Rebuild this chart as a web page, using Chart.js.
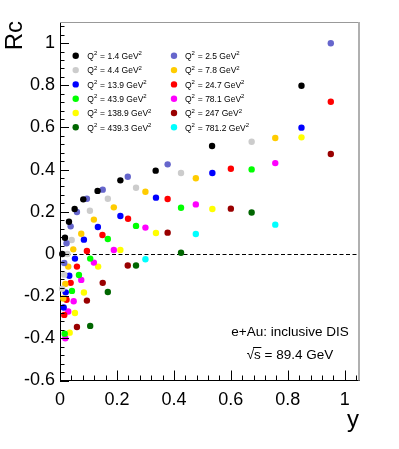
<!DOCTYPE html>
<html>
<head>
<meta charset="utf-8">
<script src="https://cdn.jsdelivr.net/npm/chart.js@4.4.1/dist/chart.umd.min.js"></script>
<style>
  html, body { margin: 0; padding: 0; background: #fff; }
  canvas { display: block; }
</style>
</head>
<body>
<canvas id="rcChart" width="399" height="449"></canvas>
<script>
// Q^2 bins (GeV^2) and marker colours
const q2Values = ['1.4', '2.5', '4.4', '7.8', '13.9', '24.7', '43.9', '78.1', '138.9', '247', '439.3', '781.2'];
const q2Colors = ['#000000', '#6666cc', '#cccccc', '#ffcc00', '#0000ff', '#ff0000',
                  '#00ff00', '#ff00ff', '#ffff00', '#990000', '#006600', '#00ffff'];

// inelasticity y and Rc for each Q^2 bin
const y_1p4 = [0.008, 0.0175, 0.0315, 0.0514, 0.0817, 0.132, 0.212, 0.336, 0.534, 0.848];
const rc_1p4 = [0.0, 0.077, 0.153, 0.213, 0.259, 0.299, 0.349, 0.395, 0.512, 0.798];
const y_2p5 = [0.015, 0.023, 0.0374, 0.0595, 0.0945, 0.150, 0.238, 0.378, 0.951];
const rc_2p5 = [-0.043, 0.051, 0.131, 0.199, 0.262, 0.305, 0.366, 0.425, 0.999];
const y_4p4 = [0.008, 0.015, 0.026, 0.041, 0.105, 0.168, 0.267, 0.425, 0.673];
const rc_4p4 = [-0.165, -0.098, 0.0, 0.066, 0.205, 0.262, 0.314, 0.384, 0.532];
const y_7p8 = [0.0116, 0.0186, 0.029, 0.0466, 0.0746, 0.119, 0.189, 0.300, 0.477, 0.756];
const rc_7p8 = [-0.211, -0.142, -0.060, 0.022, 0.096, 0.163, 0.221, 0.295, 0.359, 0.550];
const y_13p9 = [0.013, 0.020, 0.0326, 0.0525, 0.084, 0.133, 0.212, 0.337, 0.535, 0.848];
const rc_13p9 = [-0.254, -0.182, -0.103, -0.022, 0.068, 0.128, 0.180, 0.267, 0.384, 0.599];
const y_24p7 = [0.015, 0.023, 0.0374, 0.0595, 0.0945, 0.149, 0.239, 0.378, 0.600, 0.951];
const rc_24p7 = [-0.289, -0.217, -0.137, -0.060, 0.014, 0.090, 0.167, 0.261, 0.404, 0.722];
const y_43p9 = [0.0165, 0.042, 0.0665, 0.106, 0.168, 0.267, 0.425, 0.673];
const rc_43p9 = [-0.378, -0.175, -0.100, -0.022, 0.071, 0.133, 0.219, 0.401];
const y_78p1 = [0.0186, 0.029, 0.048, 0.0746, 0.119, 0.189, 0.300, 0.477, 0.756];
const rc_78p1 = [-0.400, -0.273, -0.224, -0.123, -0.041, 0.019, 0.125, 0.235, 0.431];
const y_138p9 = [0.034, 0.0525, 0.084, 0.134, 0.212, 0.337, 0.535, 0.848];
const rc_138p9 = [-0.373, -0.280, -0.183, -0.060, 0.019, 0.0995, 0.213, 0.553];
const y_247 = [0.0595, 0.0945, 0.150, 0.238, 0.378, 0.600, 0.951];
const rc_247 = [-0.346, -0.221, -0.137, -0.055, 0.101, 0.215, 0.474];
const y_439p3 = [0.106, 0.168, 0.267, 0.425, 0.673];
const rc_439p3 = [-0.341, -0.180, -0.055, 0.006, 0.197];
const y_781p2 = [0.300, 0.477, 0.756];
const rc_781p2 = [-0.025, 0.095, 0.139];

// axis tick labels
const xTicks = [0, 0.2, 0.4, 0.6, 0.8, 1];
const yTicks = [-0.6, -0.4, -0.2, 0, 0.2, 0.4, 0.6, 0.8, 1];

const yBins = [y_1p4, y_2p5, y_4p4, y_7p8, y_13p9, y_24p7, y_43p9, y_78p1, y_138p9, y_247, y_439p3, y_781p2];
const rcBins = [rc_1p4, rc_2p5, rc_4p4, rc_7p8, rc_13p9, rc_24p7, rc_43p9, rc_78p1, rc_138p9, rc_247, rc_439p3, rc_781p2];

const FONT = '"Liberation Sans", Arial, Helvetica, sans-serif';
const fmt = v => String(Math.round(v * 10) / 10);

const datasets = q2Values.map((q, i) => ({
    label: q,
    data: yBins[i].map((yv, j) => ({ x: yv, y: rcBins[i][j] })),
    backgroundColor: q2Colors[i],
    pointRadius: 3.2,
    pointBorderWidth: 0,
    clip: false
}));

// ROOT-like frame, inside ticks, titles, legend and labels
const rootStyle = {
    id: 'rootStyle',
    beforeDatasetsDraw(chart) {
        const { ctx, chartArea: a, scales: { y } } = chart;
        const y0 = Math.round(y.getPixelForValue(0)) + 0.5;
        ctx.save();
        ctx.strokeStyle = '#000';
        ctx.lineWidth = 1;
        ctx.setLineDash([4, 2.5]);
        ctx.beginPath();
        ctx.moveTo(a.left, y0);
        ctx.lineTo(a.right, y0);
        ctx.stroke();
        ctx.restore();
    },
    afterDraw(chart) {
        const { ctx, chartArea: a, scales: { x, y } } = chart;
        ctx.save();

        // top and right frame lines (grey)
        ctx.strokeStyle = '#999';
        ctx.lineWidth = 1;
        ctx.beginPath();
        ctx.moveTo(a.left, a.top + 0.5);
        ctx.lineTo(a.right, a.top + 0.5);
        ctx.stroke();
        ctx.strokeStyle = '#b0b0b0';
        ctx.lineWidth = 2;
        ctx.beginPath();
        ctx.moveTo(a.right, a.top);
        ctx.lineTo(a.right, a.bottom);
        ctx.stroke();

        // ticks drawn inside the frame
        ctx.strokeStyle = '#000';
        ctx.lineWidth = 1;
        ctx.beginPath();
        for (let k = -15; k <= 27; k++) {
            const py = Math.round(y.getPixelForValue(k * 0.04)) + 0.5;
            const len = k % 5 === 0 ? 9 : 4.5;
            ctx.moveTo(a.left, py);
            ctx.lineTo(a.left + len, py);
        }
        for (let k = 0; k <= 26; k++) {
            const px = Math.round(x.getPixelForValue(k * 0.04)) + 0.5;
            const len = k % 5 === 0 ? 10 : 5;
            ctx.moveTo(px, a.bottom);
            ctx.lineTo(px, a.bottom - len);
        }
        ctx.stroke();

        // axis titles
        ctx.fillStyle = '#000';
        ctx.font = '24px ' + FONT;
        ctx.textAlign = 'right';
        ctx.textBaseline = 'alphabetic';
        ctx.fillText('y', a.right, 427);
        ctx.save();
        ctx.translate(22, a.top - 1);
        ctx.rotate(-Math.PI / 2);
        ctx.fillText('Rc', 0, 0);
        ctx.restore();

        // legend
        ctx.textAlign = 'left';
        ctx.textBaseline = 'alphabetic';
        q2Values.forEach((q, i) => {
            const col = i % 2, row = Math.floor(i / 2);
            const cy = 55.8 + row * 14.3;
            const mx = col === 0 ? 75.7 : 174;
            let tx = col === 0 ? 87.3 : 185;
            ctx.fillStyle = q2Colors[i];
            ctx.beginPath();
            ctx.arc(mx, cy, 3.2, 0, Math.PI * 2);
            ctx.fill();
            ctx.fillStyle = '#000';
            const base = cy + 3.2;
            ctx.font = '8.5px ' + FONT;
            ctx.fillText('Q', tx, base);
            tx += ctx.measureText('Q').width;
            ctx.font = '6px ' + FONT;
            ctx.fillText('2', tx, base - 3.6);
            tx += ctx.measureText('2').width + 0.5;
            ctx.font = '8.5px ' + FONT;
            const s = ' = ' + q + ' GeV';
            ctx.fillText(s, tx, base);
            tx += ctx.measureText(s).width;
            ctx.font = '6px ' + FONT;
            ctx.fillText('2', tx, base - 3.6);
        });

        // annotation
        ctx.font = '13.5px ' + FONT;
        ctx.textAlign = 'center';
        ctx.fillText('e+Au: inclusive DIS', 290, 336);
        const rest = ' = 89.4 GeV';
        const wRoot = ctx.measureText('\u221A').width;
        const wS = ctx.measureText('s').width;
        const wRest = ctx.measureText(rest).width;
        let sx = 290 - (wRoot + wS + wRest) / 2;
        ctx.textAlign = 'left';
        ctx.fillText('\u221A', sx, 359);
        ctx.fillText('s', sx + wRoot, 359);
        ctx.lineWidth = 1;
        ctx.beginPath();
        ctx.moveTo(sx + wRoot - 1, 347.5);
        ctx.lineTo(sx + wRoot + wS + 0.5, 347.5);
        ctx.stroke();
        ctx.fillText(rest, sx + wRoot + wS, 359);

        ctx.restore();
    }
};

const ctx = document.getElementById('rcChart').getContext('2d');
const rcChart = new Chart(ctx, {
    type: 'scatter',
    data: { datasets: datasets },
    options: {
        responsive: false,
        animation: false,
        devicePixelRatio: 1,
        layout: { padding: { top: 22, right: 40, left: 0, bottom: 0 } },
        plugins: {
            legend: { display: false },
            tooltip: { enabled: false }
        },
        scales: {
            x: {
                type: 'linear',
                min: 0,
                max: 1.05,
                afterFit: s => { s.height = 68.5; },
                afterBuildTicks: s => { s.ticks = xTicks.map(v => ({ value: v })); },
                grid: { display: false, drawTicks: false },
                border: { display: true, color: '#000', width: 1 },
                ticks: {
                    color: '#000',
                    font: { family: FONT, size: 18 },
                    padding: 9,
                    maxRotation: 0,
                    minRotation: 0,
                    autoSkip: false,
                    callback: v => fmt(v)
                }
            },
            y: {
                type: 'linear',
                min: -0.6,
                max: 1.1,
                afterFit: s => { s.width = 60; },
                afterBuildTicks: s => { s.ticks = yTicks.map(v => ({ value: v })); },
                grid: { display: false, drawTicks: false },
                border: { display: true, color: '#000', width: 1 },
                ticks: {
                    color: '#000',
                    font: { family: FONT, size: 18 },
                    padding: 5,
                    autoSkip: false,
                    callback: v => fmt(v)
                }
            }
        }
    },
    plugins: [rootStyle]
});
</script>
</body>
</html>
